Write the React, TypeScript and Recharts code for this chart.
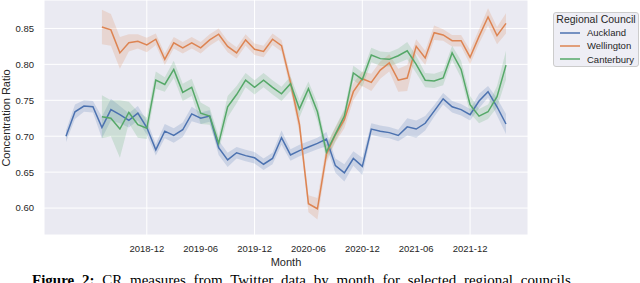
import {
  Area,
  CartesianGrid,
  ComposedChart,
  Line,
  XAxis,
  YAxis,
} from "recharts";

// ---------------------------------------------------------------------------
// Data: monthly CR per regional council, with the
// half-width of the shaded confidence band.
// ---------------------------------------------------------------------------

const months = [
  "2018-03", "2018-04", "2018-05", "2018-06", "2018-07", "2018-08", "2018-09", "2018-10", "2018-11", "2018-12",
  "2019-01", "2019-02", "2019-03", "2019-04", "2019-05", "2019-06", "2019-07", "2019-08", "2019-09", "2019-10",
  "2019-11", "2019-12", "2020-01", "2020-02", "2020-03", "2020-04", "2020-05", "2020-06", "2020-07", "2020-08",
  "2020-09", "2020-10", "2020-11", "2020-12", "2021-01", "2021-02", "2021-03", "2021-04", "2021-05", "2021-06",
  "2021-07", "2021-08", "2021-09", "2021-10", "2021-11", "2021-12", "2022-01", "2022-02", "2022-03", "2022-04",
];

const tickMonths = ["2018-12", "2019-06", "2019-12", "2020-06", "2020-12", "2021-06", "2021-12"];
const yTicks = [0.6, 0.65, 0.7, 0.75, 0.8, 0.85];

const auckland = [
  0.700, 0.734, 0.742, 0.741, 0.712, 0.737, 0.730, 0.722, 0.732, 0.712,
  0.681, 0.707, 0.701, 0.709, 0.731, 0.725, 0.728, 0.684, 0.667, 0.677,
  0.673, 0.670, 0.661, 0.669, 0.698, 0.674, 0.680, 0.685, 0.690, 0.696,
  0.659, 0.649, 0.669, 0.658, 0.710, 0.707, 0.705, 0.701, 0.713, 0.710,
  0.718, 0.735, 0.752, 0.741, 0.737, 0.730, 0.749, 0.762, 0.741, 0.717,
];
const aucklandSpread = [
  0.008, 0.010, 0.008, 0.008, 0.015, 0.015, 0.012, 0.010, 0.010, 0.010,
  0.008, 0.010, 0.010, 0.010, 0.010, 0.008, 0.008, 0.010, 0.010, 0.008,
  0.008, 0.008, 0.008, 0.008, 0.010, 0.008, 0.008, 0.008, 0.008, 0.010,
  0.010, 0.012, 0.010, 0.012, 0.008, 0.008, 0.008, 0.008, 0.012, 0.012,
  0.010, 0.008, 0.008, 0.008, 0.008, 0.008, 0.010, 0.008, 0.012, 0.014,
];

const wellington = [
  null, null, null, null, 0.852, 0.848, 0.816, 0.830, 0.832, 0.827,
  0.835, 0.807, 0.830, 0.823, 0.830, 0.823, 0.834, 0.842, 0.825, 0.816,
  0.834, 0.821, 0.818, 0.835, 0.826, 0.775, 0.716, 0.606, 0.599, 0.675,
  0.702, 0.723, 0.762, 0.780, 0.775, 0.792, 0.802, 0.778, 0.781, 0.825,
  0.809, 0.844, 0.841, 0.833, 0.833, 0.810, 0.839, 0.866, 0.840, 0.857,
];
const wellingtonSpread = [
  null, null, null, null, 0.024, 0.022, 0.022, 0.012, 0.010, 0.010,
  0.008, 0.008, 0.008, 0.008, 0.008, 0.008, 0.008, 0.008, 0.008, 0.008,
  0.008, 0.008, 0.008, 0.008, 0.008, 0.010, 0.012, 0.012, 0.015, 0.012,
  0.010, 0.012, 0.012, 0.010, 0.012, 0.012, 0.012, 0.016, 0.018, 0.010,
  0.010, 0.010, 0.008, 0.008, 0.008, 0.010, 0.010, 0.012, 0.012, 0.014,
];

const canterbury = [
  null, null, null, null, 0.727, 0.725, 0.710, 0.733, 0.716, 0.711,
  0.778, 0.772, 0.793, 0.761, 0.768, 0.732, 0.728, 0.690, 0.741, 0.758,
  0.778, 0.768, 0.778, 0.768, 0.759, 0.773, 0.738, 0.766, 0.734, 0.678,
  0.703, 0.728, 0.788, 0.779, 0.813, 0.808, 0.807, 0.812, 0.819, 0.800,
  0.778, 0.777, 0.781, 0.816, 0.793, 0.744, 0.728, 0.734, 0.755, 0.799,
];
const canterburySpread = [
  null, null, null, null, 0.030, 0.025, 0.040, 0.015, 0.018, 0.015,
  0.012, 0.010, 0.012, 0.012, 0.012, 0.015, 0.012, 0.010, 0.015, 0.012,
  0.010, 0.010, 0.010, 0.010, 0.010, 0.010, 0.012, 0.010, 0.012, 0.010,
  0.010, 0.010, 0.010, 0.010, 0.010, 0.010, 0.010, 0.010, 0.012, 0.012,
  0.010, 0.010, 0.010, 0.010, 0.012, 0.012, 0.010, 0.010, 0.015, 0.020,
];

const SERIES = [
  { key: "auckland", name: "Auckland", color: "#4C72B0", values: auckland, spread: aucklandSpread },
  { key: "wellington", name: "Wellington", color: "#DD8452", values: wellington, spread: wellingtonSpread },
  { key: "canterbury", name: "Canterbury", color: "#55A868", values: canterbury, spread: canterburySpread },
];

const rows = months.map((month, i) => {
  const row: Record<string, unknown> = { idx: i, month };
  for (const s of SERIES) {
    const v = s.values[i];
    const d = s.spread[i];
    row[s.key] = v;
    row[s.key + "Band"] = v == null || d == null ? null : [v - d, v + d];
  }
  return row;
});

const FONT = '"Liberation Sans", Arial, sans-serif';
const TEXT = "#262626";

// legend drawn as an overlay so it does not take space from the plot
function LegendBox() {
  return (
    <div
      style={{
        position: "absolute",
        left: 553,
        top: 12,
        width: 84,
        background: "rgba(234,234,242,0.8)",
        border: "1px solid #cccccc",
        borderRadius: 3,
        fontFamily: FONT,
        color: TEXT,
      }}
    >
      <div style={{ height: 13, lineHeight: "13px", fontSize: 10.5, textAlign: "center" }}>
        Regional Council
      </div>
      {SERIES.map((s) => (
        <div
          key={s.key}
          style={{ display: "flex", alignItems: "center", height: 13.3, fontSize: 9.5 }}
        >
          <svg width={20} height={4} style={{ marginLeft: 6 }}>
            <line x1={0} y1={2} x2={20} y2={2} stroke={s.color} strokeWidth={1.5} />
          </svg>
          <span style={{ marginLeft: 7 }}>{s.name}</span>
        </div>
      ))}
    </div>
  );
}

export default function App() {
  return (
    <div
      style={{
        position: "absolute",
        left: 0,
        top: 0,
        width: 640,
        height: 283,
        overflow: "hidden",
        background: "#fff",
      }}
    >
      <ComposedChart
        width={640}
        height={283}
        data={rows}
        margin={{ top: 0, right: 112, bottom: 0, left: 0 }}
      >
        <CartesianGrid fill="#EAEAF2" fillOpacity={1} stroke="#ffffff" strokeWidth={1} />
        <XAxis
          dataKey="idx"
          type="number"
          domain={[-2.45, 51.45]}
          ticks={tickMonths.map((m) => months.indexOf(m))}
          tickFormatter={(v) => months[Number(v)]}
          height={48}
          axisLine={false}
          tickLine={false}
          tickSize={6}
          tickMargin={4}
          tick={{ fontSize: 9.5, fill: TEXT, fontFamily: FONT }}
          allowDataOverflow
        />
        <YAxis
          type="number"
          domain={[0.5625, 0.8896]}
          ticks={yTicks}
          tickFormatter={(v) => Number(v).toFixed(2)}
          width={44}
          axisLine={false}
          tickLine={false}
          tickSize={6}
          tickMargin={4}
          tick={{ fontSize: 9.5, fill: TEXT, fontFamily: FONT }}
          allowDataOverflow
        />
        {SERIES.flatMap((s) => [
          <Area
            key={s.key + "Band"}
            type="linear"
            dataKey={s.key + "Band"}
            stroke="none"
            fill={s.color}
            fillOpacity={0.2}
            isAnimationActive={false}
            legendType="none"
          />,
          <Line
            key={s.key}
            type="linear"
            dataKey={s.key}
            name={s.name}
            stroke={s.color}
            strokeWidth={1.5}
            dot={false}
            activeDot={false}
            isAnimationActive={false}
          />,
        ])}
      </ComposedChart>

      <LegendBox />

      {/* axis titles */}
      <div
        style={{
          position: "absolute",
          left: 6,
          top: 118,
          transform: "translate(-50%, -50%) rotate(-90deg)",
          whiteSpace: "nowrap",
          fontFamily: FONT,
          fontSize: 11,
          color: TEXT,
        }}
      >
        Concentration Ratio
      </div>
      <div
        style={{
          position: "absolute",
          left: 286,
          top: 262,
          transform: "translate(-50%, -50%)",
          whiteSpace: "nowrap",
          fontFamily: FONT,
          fontSize: 11,
          color: TEXT,
        }}
      >
        Month
      </div>

      {/* figure caption, cut off by the page edge as in the source */}
      <div
        style={{
          position: "absolute",
          left: 32,
          top: 273,
          whiteSpace: "nowrap",
          fontFamily: '"Liberation Serif", "Times New Roman", serif',
          fontSize: 15,
          lineHeight: "15px",
          wordSpacing: 4,
          color: "#000",
        }}
      >
        <b>Figure 2:</b> CR measures from Twitter data by month for selected regional councils
      </div>
    </div>
  );
}
